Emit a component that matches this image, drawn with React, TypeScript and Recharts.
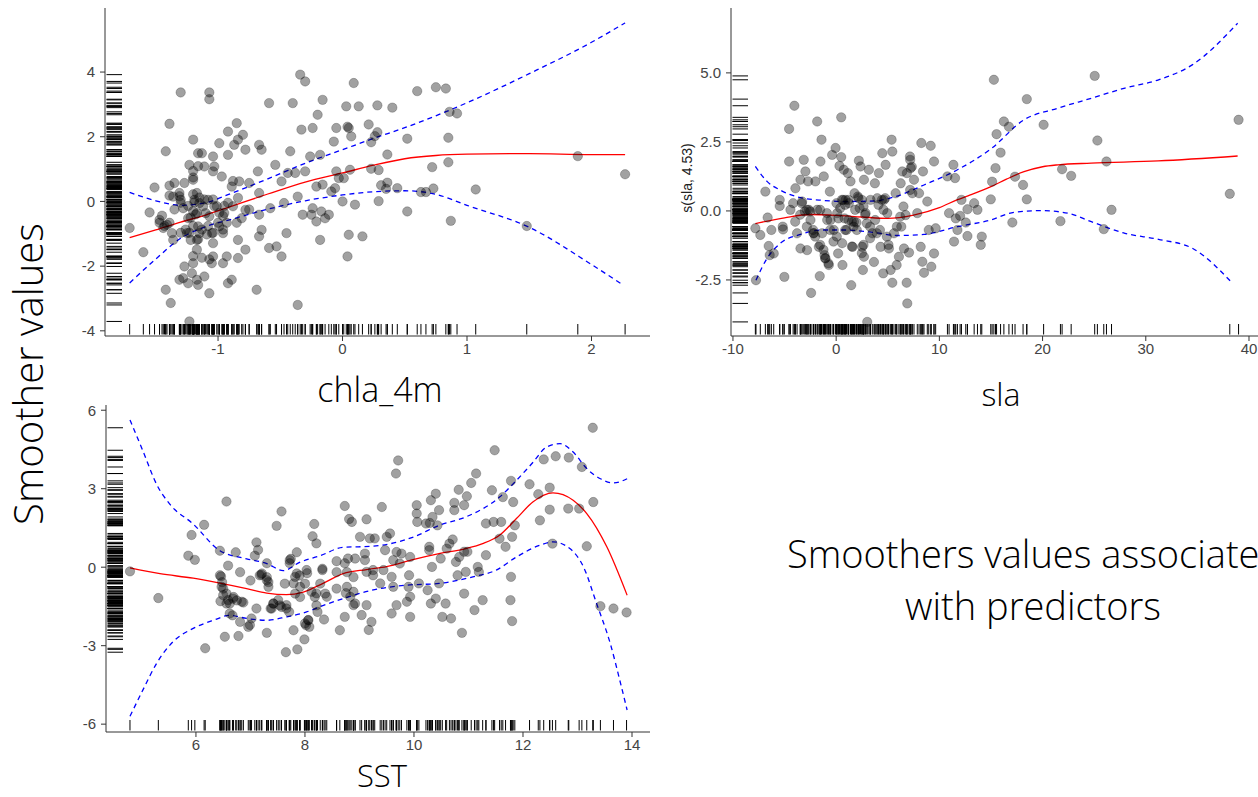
import React from 'react';
import { ComposedChart, Scatter, Line, XAxis, YAxis } from 'recharts';

type P = [number, number];

// ---------- Panel 1: chla_4m ----------
const chlaPoints: P[] = [
  [-1.71,-0.82],[-1.60,-1.57],[-1.55,-0.34],[-1.51,0.43],[-1.42,1.55],[-1.39,2.40],[-1.39,0.18],[-1.38,-3.14],[-1.42,-2.73],[-1.30,3.37],
  [-1.35,0.57],[-1.47,-0.57],[-1.45,-0.44],[-1.44,-0.82],[-1.41,-0.72],[-1.37,-0.98],[-1.36,-1.19],[-1.36,0.15],[-1.31,0.26],[-1.30,0.05],
  [-1.28,-0.21],[-1.27,0.57],[-1.25,-0.98],[-1.24,-0.52],[-1.23,1.13],[-1.22,-1.19],[-1.27,-2.01],[-1.28,-2.37],[-1.31,-2.42],[-1.24,-2.53],
  [-1.21,-2.22],[-1.20,-1.91],[-1.23,-3.71],[-1.20,1.91],[-1.20,0.67],[-1.19,0.05],[-1.17,0.26],[-1.16,1.49],[-1.15,-0.05],[-1.17,-0.36],
  [-1.16,-0.77],[-1.15,-0.98],[-1.17,-1.19],[-1.17,-1.49],[-1.17,-2.42],[-1.16,-2.58],[-1.13,1.49],[-1.11,1.08],[-1.11,-2.32],[-1.07,3.37],
  [-1.07,3.16],[-1.07,-2.84],[-1.08,0.05],[-1.10,-0.36],[-1.07,-0.46],[-1.05,-0.98],[-1.04,1.39],[-1.04,0.93],[-1.03,1.08],[-1.04,-1.29],
  [-1.04,-1.70],[-1.05,-1.91],[-1.01,-0.15],[-0.99,-0.77],[-0.97,0.77],[-0.99,1.80],[-0.96,-0.98],[-0.96,-1.91],[-0.95,-0.36],[-0.93,-1.70],
  [-0.92,2.16],[-0.92,1.44],[-0.92,-2.53],[-0.89,0.46],[-0.89,-2.42],[-0.88,-0.15],[-0.87,1.75],[-0.85,2.42],[-0.84,1.91],[-0.84,-1.75],
  [-0.84,-1.19],[-0.83,0.62],[-0.81,-0.52],[-0.80,2.06],[-0.78,1.60],[-0.78,-1.49],[-0.78,-0.26],[-0.75,0.57],[-0.69,-2.73],[-0.68,0.93],
  [-0.67,1.75],[-0.65,1.60],[-0.67,0.26],[-0.67,-0.41],[-0.67,-1.08],[-0.65,-0.88],[-0.59,3.04],[-0.59,-1.44],[-0.58,-0.21],[-0.54,1.13],
  [-0.53,-1.39],[-0.49,0.62],[-0.49,-1.70],[-0.47,-0.05],[-0.45,-0.98],[-0.44,0.88],[-0.42,1.55],[-0.40,3.04],[-0.38,0.88],[-0.36,0.15],
  [-0.36,-3.20],[-0.34,3.92],[-0.33,2.22],[-0.30,3.71],[-0.32,-0.41],[-0.30,0.93],[-0.26,1.39],[-0.25,-0.41],[-0.24,2.27],[-0.24,-0.21],
  [-0.21,0.46],[-0.21,-0.62],[-0.20,2.68],[-0.18,1.44],[-0.18,-1.19],[-0.17,-0.31],[-0.16,3.14],[-0.16,0.52],[-0.14,-0.52],[-0.11,-0.41],
  [-0.09,0.31],[-0.07,1.85],[-0.06,0.41],[-0.05,2.27],[-0.05,0.93],[-0.03,0.72],[0.00,0.00],[0.01,0.72],[0.03,2.94],[0.04,-1.70],
  [0.05,2.27],[0.05,-1.03],[0.06,0.98],[0.07,2.01],[0.09,3.66],[0.10,-0.10],[0.13,2.94],
  [-1.39,0.49],[-1.31,0.16],[-1.30,-0.04],[-1.35,-0.25],[-1.24,-0.14],[-1.20,0.22],[-1.19,-0.03],[-1.15,0.12],[-1.11,0.06],[-1.12,-0.15],
  [-1.04,0.06],[-1.03,-0.15],[-1.20,-0.30],[-1.22,-0.50],[-1.18,-0.40],[-1.47,-0.66],[-1.43,-0.76],[-1.39,-0.66],[-1.30,-0.97],[-1.26,-0.87],
  [-1.23,-0.97],[-1.20,-0.76],[-1.16,-1.17],[-1.13,-0.87],[-1.08,-0.76],[-1.09,-1.02],[-1.04,-0.97],[-1.00,-0.66],[-0.96,-0.45],[-0.99,-0.35],
  [-0.95,-0.14],[-0.92,-0.04],[-0.96,-0.87],[-0.93,-0.66],[-0.88,0.63],[-0.84,0.11],[-0.85,-0.66],[-0.75,-0.25],[-1.20,0.94],[-1.20,0.74],
  [-1.16,1.09],[-1.20,-1.69],[-1.13,-1.74],[-1.07,-1.79],
  [0.04,2.31],[0.21,2.38],[0.28,2.14],[0.26,2.02],[0.23,1.83],[0.28,2.97],[0.40,2.90],[0.60,3.41],[0.75,3.53],[0.83,3.49],
  [0.52,1.94],[0.85,1.97],[0.86,2.77],[0.92,2.72],[0.36,1.45],[0.23,1.01],[0.29,0.97],[0.72,1.06],[0.85,1.21],[0.31,0.50],
  [0.36,0.58],[0.35,0.39],[0.44,0.41],[0.63,0.29],[0.67,0.29],[0.73,0.40],[1.07,0.37],[0.29,0.01],[0.52,-0.31],[0.87,-0.60],
  [0.16,-1.08],[1.48,-0.76],[1.89,1.40],[2.27,0.84],
];
const chlaFit: P[] = [
  [-1.71,-1.12],[-1.5,-0.88],[-1.3,-0.64],[-1.1,-0.42],[-0.9,-0.16],[-0.6,0.23],[-0.3,0.60],[0,0.88],[0.25,1.12],[0.5,1.32],
  [0.75,1.42],[1.0,1.46],[1.5,1.48],[2.0,1.45],[2.27,1.45],
];
const chlaUpper: P[] = [
  [-1.71,0.28],[-1.5,0.02],[-1.3,-0.12],[-1.1,-0.04],[-0.9,0.24],[-0.6,0.70],[-0.3,1.18],[0,1.60],[0.25,1.95],[0.5,2.28],
  [1.0,3.05],[1.5,3.95],[2.0,4.92],[2.27,5.52],
];
const chlaLower: P[] = [
  [-1.71,-2.52],[-1.5,-1.78],[-1.3,-1.14],[-1.1,-0.78],[-0.9,-0.56],[-0.6,-0.24],[-0.3,0.02],[0,0.20],[0.25,0.30],[0.5,0.33],
  [0.75,0.22],[1.0,-0.12],[1.5,-0.80],[2.0,-1.95],[2.24,-2.55],
];
const chlaXTicks = [-1, 0, 1, 2];
const chlaYTicks = [-4, -2, 0, 2, 4];

// ---------- Panel 2: sla ----------
const slaPoints: P[] = [
  [-7.77,-2.51],[-7.83,-0.63],[-7.35,-0.87],[-6.86,0.70],[-6.64,-0.24],[-6.54,-1.27],[-6.44,-1.60],[-6.28,-0.69],[-6.05,-1.54],[-5.47,0.40],
  [-5.47,0.18],[-5.18,-0.57],[-5.15,-0.67],[-5.02,-2.39],[-4.56,2.97],[-4.56,1.79],[-4.43,0.04],[-4.17,0.28],[-4.05,3.81],[-3.95,0.82],
  [-3.79,-0.81],[-3.46,-1.36],[-3.46,1.13],[-3.30,0.34],[-3.14,1.85],[-2.98,1.43],[-3.04,-0.02],[-2.82,-1.42],[-2.72,1.07],[-2.65,0.04],
  [-2.49,-0.33],[-2.43,-2.97],[-2.23,-0.69],[-2.17,-0.81],[-2.01,1.07],[-1.84,3.24],[-1.84,0.04],[-1.68,-1.30],[-1.59,-2.36],[-1.52,1.79],
  [-1.42,2.58],[-1.36,-0.81],[-1.20,1.25],[-1.13,-1.60],[-1.04,-1.72],[-0.87,-0.33],[-0.71,-1.96],[-0.61,0.70],[-0.55,-0.33],[-0.39,2.03],
  [-0.23,-0.69],[-0.06,2.28],[0.03,0.28],[0.10,-0.08],[0.19,-1.54],[0.32,1.63],[0.49,1.95],[0.49,3.39],[0.58,-1.17],[0.61,-1.96],
  [0.68,0.40],[0.74,1.49],[0.81,-0.27],[0.91,0.40],[1.00,-0.69],[1.13,1.37],[1.23,0.28],[1.39,1.07],[1.46,-2.69],[1.59,-1.30],
  [1.72,-0.39],[1.78,0.64],[1.97,-0.42],[2.10,0.52],[2.20,1.82],[2.27,0.10],[2.36,1.61],[2.52,-1.30],[2.59,-2.14],[2.69,1.13],
  [2.69,-1.66],[2.85,-0.08],[3.01,-4.02],[3.17,1.49],[3.33,0.40],[3.50,-0.81],[3.66,-1.85],[3.75,1.00],[3.98,0.46],[4.14,1.37],
  [4.24,-0.69],[4.30,-1.30],[4.47,2.09],[4.56,-2.26],[4.63,0.40],[4.79,1.67],[4.95,-0.08],[5.11,-1.36],[5.28,-2.14],[5.37,2.58],
  [5.44,2.15],[5.44,-2.60],[5.60,-0.81],[5.76,0.64],[5.86,-1.96],[6.08,-1.66],[6.25,1.00],[6.31,-0.57],[6.41,1.43],[6.57,-1.36],
  [6.73,-0.15],[6.83,-2.60],[6.89,-3.35],[7.06,-1.51],[7.15,1.97],[7.22,1.55],[7.38,0.64],[7.54,1.13],[7.86,-0.08],[8.03,0.64],
  [8.19,-1.30],[8.25,2.46],[8.35,-1.84],[8.41,1.43],[8.51,-2.24],[8.83,0.34],[8.97,-0.69],[9.16,2.36],[9.22,-2.02],[9.48,1.79],
  [9.48,-1.54],[9.64,-0.63],[10.78,1.25],[10.94,-0.08],[11.36,1.67],[11.52,1.19],[11.59,-0.27],[11.42,-1.11],[11.75,-0.69],[12.01,-0.18],
  [12.14,0.40],[12.56,-0.42],[12.72,-0.91],[12.72,0.06],[13.37,0.28],[13.69,0.04],[14.01,-1.23],[14.11,-0.93],[14.98,0.42],
  [15.28,4.75],[18.47,4.05],[16.25,3.24],[16.74,3.05],[15.54,2.78],[15.93,2.11],[15.44,1.55],[15.11,1.06],[17.33,1.24],[18.11,0.94],
  [18.47,0.42],[20.10,3.12],[17.07,-0.42],[21.89,1.51],[22.77,1.27],[21.73,-0.37],[25.05,4.89],[25.31,2.55],[26.19,1.79],[26.68,0.04],
  [25.93,-0.66],[38.14,0.62],[38.99,3.30],
  [-3.33,0.28],[-2.84,0.04],[-2.20,-0.81],[-2.03,-0.93],[-1.55,-1.23],[-1.07,-1.71],[-0.75,-1.90],[-0.58,-0.69],[-0.26,-1.11],[0.22,-0.27],
  [0.55,0.40],[0.87,0.22],[1.19,0.40],[1.52,-0.39],[1.68,-0.57],[1.84,0.04],[2.16,0.46],[2.49,0.40],[2.65,0.16],[2.81,-0.14],
  [2.97,-0.45],[3.29,-0.57],[3.78,-0.33],[4.10,0.22],[4.43,0.40],[4.75,0.46],[4.58,0.04],[4.91,-0.93],[5.07,-1.23],[3.94,-0.81],
  [3.29,-0.99],[2.65,-1.23],[2.49,-1.53],[1.52,-1.29],[0.87,-0.69],[0.06,-0.93],[1.19,-0.33],[2.00,-0.69],[0.39,0.10],[-0.90,-0.08],
  [-1.55,0.04],[-2.52,-0.02],[-3.49,-0.14],[-2.84,-0.57],[-3.97,-0.39],[-1.23,-1.41],[5.88,-0.57],[6.20,-0.21],[6.52,0.16],[7.17,0.76],
  [6.85,1.37],[7.33,1.60],[7.17,1.85],
];
const slaFit: P[] = [
  [-7.83,-0.46],[-5,-0.25],[-2.5,-0.13],[0,-0.16],[2.5,-0.22],[5,-0.27],[7.5,-0.15],[10,0.12],[11.7,0.40],[13,0.58],
  [15,0.88],[16.5,1.15],[18.2,1.42],[20,1.60],[21.5,1.67],[24.7,1.73],[31.2,1.81],[38.9,1.99],
];
const slaUpper: P[] = [
  [-7.83,1.61],[-6.7,1.07],[-5.4,0.75],[-3.46,0.48],[-1.2,0.38],[0.74,0.34],[3.66,0.36],[5.92,0.54],[8.51,0.94],[11.75,1.49],
  [15,2.25],[18.2,3.30],[21.47,3.72],[24.72,4.08],[27.98,4.45],[31.24,4.75],[34.5,5.29],[38.9,6.80],
];
const slaLower: P[] = [
  [-7.77,-2.51],[-6.7,-1.72],[-5.4,-1.17],[-3.46,-0.85],[-1.2,-0.69],[0.74,-0.69],[3.66,-0.78],[5.92,-0.89],[8.51,-0.85],[11.75,-0.57],
  [14.95,-0.33],[17.23,-0.05],[19.84,0.01],[22.44,-0.08],[24.72,-0.39],[27.98,-0.81],[31.24,-1.03],[34.5,-1.35],[38.4,-2.62],
];
const slaXTicks = [-10, 0, 10, 20, 30, 40];
const slaYTicks = [-2.5, 0, 2.5, 5];

// ---------- Panel 3: SST ----------
const sstPoints: P[] = [
  [4.79,-0.16],[5.31,-1.18],[5.86,0.44],[5.92,1.23],[5.98,0.28],[6.15,1.62],[6.17,-3.10],[6.44,0.63],[6.46,-0.35],[6.48,-0.57],
  [6.50,-0.82],[6.45,-1.30],[6.53,-2.66],[6.56,2.51],[6.59,0.06],[6.56,-1.01],[6.62,-1.39],[6.67,-1.84],[6.69,-1.14],[6.73,0.57],
  [6.75,-1.27],[6.78,-2.63],[6.81,-0.19],[6.81,-2.09],[6.87,-1.35],[6.96,-2.28],[7.00,-0.51],[7.02,-1.96],[7.08,0.44],[7.11,-1.58],
  [7.11,0.95],[7.14,0.66],[7.20,-0.29],[7.30,-2.51],[7.30,0.15],[7.30,-0.38],[7.33,-0.57],[7.37,-1.58],[7.42,-1.39],[7.48,1.58],
  [7.54,-1.46],[7.57,2.13],[7.63,-0.63],[7.65,-3.25],[7.66,-1.58],[7.71,-1.71],[7.72,0.15],[7.74,0.32],[7.79,-2.41],[7.82,-1.01],
  [7.85,0.57],[7.86,-3.14],[7.90,-0.32],[7.91,-1.14],[7.99,-2.76],[8.00,-0.63],[8.02,-2.22],[8.04,-0.23],[8.06,-2.03],[8.08,-2.28],
  [8.14,1.18],[8.17,1.65],[8.21,0.91],[8.18,-1.14],[8.21,-1.46],[8.23,-1.71],[8.28,-0.63],[8.32,-0.06],[8.35,-2.00],[8.37,-1.01],
  [8.58,0.23],[8.58,-0.82],[8.64,-2.41],[8.58,-0.19],[8.73,2.34],[8.73,0.15],[8.73,-1.90],[8.75,-0.99],[8.77,-0.19],[8.81,1.84],
  [8.86,1.73],[8.89,-0.38],[8.92,-1.39],
  [6.44,-0.31],[6.47,-0.75],[6.50,-1.07],[6.59,-1.26],[6.68,-1.20],[6.84,-1.32],[6.56,-1.39],[6.62,-1.77],[6.99,-2.21],[7.17,-0.31],
  [7.30,-0.50],[7.21,-0.24],[7.33,-0.75],[7.42,-1.39],[7.51,-1.26],[7.57,-1.52],[7.39,-1.58],[7.66,-1.45],[7.79,-0.62],[7.82,-0.37],
  [7.91,-0.75],[7.85,-0.24],[8.12,-0.94],[8.21,-1.00],[8.06,-2.02],[8.00,-2.15],[7.72,0.27],[8.03,-0.11],[8.32,-0.11],[8.40,-1.13],
  [8.77,-0.75],[8.83,-1.13],[8.89,-0.94],
  [9.13,1.83],[9.41,2.30],[9.71,4.08],[9.67,3.58],[9.01,1.16],[9.19,1.10],[9.28,1.10],[9.50,1.16],[9.56,1.29],[9.10,0.52],
  [8.92,0.33],[8.79,0.33],[9.10,0.27],[9.13,-0.18],[9.25,-0.11],[9.25,-0.31],[9.44,-0.11],[9.38,-0.62],[9.47,0.65],[9.68,0.58],
  [9.77,0.52],[9.93,0.39],[9.62,0.27],[9.74,0.14],[9.59,-0.37],[9.62,-0.75],[9.91,-0.31],[9.90,-0.75],[9.93,-1.13],[9.87,-1.32],
  [9.68,-1.45],[9.59,-1.77],[9.93,-1.90],[9.13,-1.45],[9.04,-1.83],[9.22,-2.09],[9.17,-2.40],[8.89,-1.45],[10.05,2.37],[10.05,2.05],
  [10.06,1.73],
  [10.22,1.67],[10.29,1.69],[10.40,2.81],[10.31,2.56],[10.46,2.18],[10.34,1.92],[10.74,2.46],[10.74,2.18],[10.82,2.96],[10.92,2.37],
  [10.97,2.71],[11.05,3.22],[11.14,3.58],[10.60,0.71],[10.65,0.90],[10.71,1.06],[10.83,0.39],[10.92,0.59],[10.98,0.59],[10.43,1.60],
  [10.28,0.78],[10.28,0.65],[10.33,0.01],[10.49,0.33],[10.09,-0.62],[10.25,-0.88],[10.31,-1.39],[10.40,-1.20],[10.46,-0.62],[10.58,-1.39],
  [10.68,-1.96],[10.52,-1.90],[10.80,-0.31],[10.77,0.20],[10.92,-1.01],[10.95,-0.18],[10.88,-2.51],[11.11,-1.64],[11.17,0.01],[11.26,-1.26],
  [11.32,0.46],[11.19,-0.18],[11.32,1.67],[11.43,2.94],[11.48,4.47],[11.46,1.73],[11.60,1.73],[11.63,2.68],[11.57,1.09],[11.68,0.78],
  [11.78,3.30],[11.82,2.49],[11.85,1.60],[11.80,1.16],[11.78,-0.37],[11.77,-1.26],[11.80,-2.06],[12.12,3.17],[12.28,2.79],[12.31,1.79],
  [12.38,4.12],[12.49,3.04],[12.49,2.20],[12.54,0.90],[12.60,4.24],[12.83,2.24],[12.84,4.19],[13.03,2.24],[13.08,3.83],[13.17,0.80],
  [13.29,2.49],[13.28,5.33],[13.42,-1.49],[13.66,-1.58],[13.90,-1.73],
];
const sstFit: P[] = [
  [4.79,-0.03],[5.34,-0.25],[5.95,-0.42],[6.44,-0.61],[6.93,-0.82],[7.30,-0.99],[7.66,-1.05],[7.97,-0.95],[8.34,-0.61],[8.70,-0.25],
  [9.13,-0.09],[9.50,0.02],[10.0,0.30],[10.46,0.52],[10.95,0.71],[11.26,0.90],[11.57,1.22],[11.88,1.86],[12.18,2.49],[12.55,2.84],
  [12.92,2.56],[13.17,2.05],[13.54,0.77],[13.91,-1.07],
];
const sstUpper: P[] = [
  [4.79,5.63],[5.03,4.43],[5.28,3.16],[5.52,2.41],[5.95,1.65],[6.44,0.63],[6.93,0.32],[7.30,0.14],[7.60,-0.13],[7.91,0.19],
  [8.28,0.44],[8.70,0.76],[9.23,0.80],[10.0,1.16],[10.46,1.60],[10.95,1.92],[11.57,2.68],[11.88,3.32],[12.18,4.0],[12.43,4.59],
  [12.68,4.72],[12.92,4.40],[13.17,3.77],[13.42,3.38],[13.66,3.22],[13.91,3.38],
];
const sstLower: P[] = [
  [4.79,-5.70],[5.03,-4.68],[5.28,-3.67],[5.58,-2.85],[5.95,-2.34],[6.32,-2.03],[6.62,-1.84],[6.93,-1.96],[7.30,-2.03],[7.66,-1.90],
  [8.03,-1.71],[8.34,-1.46],[8.70,-1.20],[9.23,-0.88],[9.85,-0.69],[10.46,-0.62],[11.08,-0.37],[11.51,-0.11],[11.88,0.39],[12.31,0.84],
  [12.55,0.97],[12.86,0.71],[13.11,0.01],[13.35,-1.39],[13.60,-2.91],[13.79,-4.44],[13.91,-5.46],
];
const sstXTicks = [6, 8, 10, 12, 14];
const sstYTicks = [-6, -3, 0, 3, 6];

// ---------- helpers ----------
const toXY = (a: P[]) => a.map(([x, y]) => ({ x, y }));
const tickFamily = '"Liberation Sans", Arial, sans-serif';
const tickFont = { fill: '#444', fontSize: 15, fontFamily: tickFamily };
const axisStroke = { stroke: '#333', strokeWidth: 1 };
const bigFont = '"Open Sans", "Noto Sans", sans-serif';

const PointShape = (p: any) => (
  <circle cx={p.cx} cy={p.cy} r={4.7} fill="rgba(0,0,0,0.37)" stroke="rgba(0,0,0,0.22)" strokeWidth={1} />
);
const XRugShape = (p: any) => (
  <line x1={p.cx} x2={p.cx} y1={p.cy - 1.5} y2={p.cy - 12} stroke="#000" strokeWidth={1} />
);
const YRugShape = (p: any) => (
  <line x1={p.cx + 1.5} x2={p.cx + 17} y1={p.cy} y2={p.cy} stroke="#000" strokeWidth={1} />
);

type PanelProps = {
  points: P[]; fit: P[]; upper: P[]; lower: P[];
  xDomain: [number, number]; yDomain: [number, number];
  xTicks: number[]; yTicks: number[];
  width: number; height: number;
  margin: { top: number; right: number; bottom: number; left: number };
  yAxisWidth: number; yFmt?: (v: number) => string;
};

function Panel(props: PanelProps) {
  const { points, fit, upper, lower, xDomain, yDomain, xTicks, yTicks, width, height, margin, yAxisWidth, yFmt } = props;
  const xRug = points.map(([x]) => ({ x, y: yDomain[0] }));
  const yRug = points.map(([, y]) => ({ x: xDomain[0], y }));
  return (
    <ComposedChart width={width} height={height} margin={margin}>
      <XAxis type="number" dataKey="x" domain={xDomain} ticks={xTicks} interval={0} allowDataOverflow
        height={30} tickSize={5} tickMargin={2} axisLine={axisStroke} tickLine={axisStroke} tick={tickFont}
        fontSize={15} fontFamily={tickFamily} />
      <YAxis type="number" dataKey="y" domain={yDomain} ticks={yTicks} interval={0} allowDataOverflow
        width={yAxisWidth} tickSize={5} tickMargin={5} axisLine={axisStroke} tickLine={axisStroke} tick={tickFont}
        fontSize={15} fontFamily={tickFamily} tickFormatter={yFmt} />
      <Scatter data={xRug} shape={XRugShape} isAnimationActive={false} />
      <Scatter data={yRug} shape={YRugShape} isAnimationActive={false} />
      <Scatter data={toXY(points)} shape={PointShape} isAnimationActive={false} />
      <Line data={toXY(upper)} dataKey="y" type="monotone" stroke="#0000ff" strokeWidth={1.3} strokeDasharray="5 4" dot={false} activeDot={false} isAnimationActive={false} />
      <Line data={toXY(lower)} dataKey="y" type="monotone" stroke="#0000ff" strokeWidth={1.3} strokeDasharray="5 4" dot={false} activeDot={false} isAnimationActive={false} />
      <Line data={toXY(fit)} dataKey="y" type="monotone" stroke="#ff0000" strokeWidth={1.3} dot={false} activeDot={false} isAnimationActive={false} />
    </ComposedChart>
  );
}

export default function App() {
  return (
    <div style={{ position: 'absolute', left: 0, top: 0, width: 1258, height: 797, overflow: 'hidden', background: '#fff' }}>
      <div style={{ position: 'absolute', left: 0, top: 0 }}>
        <Panel points={chlaPoints} fit={chlaFit} upper={chlaUpper} lower={chlaLower}
          xDomain={[-1.908, 2.47]} yDomain={[-4.16, 5.98]} xTicks={chlaXTicks} yTicks={chlaYTicks}
          width={660} height={380} margin={{ top: 8, right: 10, bottom: 14, left: 45 }} yAxisWidth={60} />
      </div>
      <div style={{ position: 'absolute', left: 680, top: 0 }}>
        <Panel points={slaPoints} fit={slaFit} upper={slaUpper} lower={slaLower}
          xDomain={[-10.19, 40.97]} yDomain={[-4.53, 7.35]} xTicks={slaXTicks} yTicks={slaYTicks}
          width={580} height={380} margin={{ top: 8, right: 1, bottom: 14, left: 0 }} yAxisWidth={51}
          yFmt={(v: number) => v.toFixed(1)} />
      </div>
      <div style={{ position: 'absolute', left: 0, top: 397 }}>
        <Panel points={sstPoints} fit={sstFit} upper={sstUpper} lower={sstLower}
          xDomain={[4.35, 14.33]} yDomain={[-6.3, 6.2]} xTicks={sstXTicks} yTicks={sstYTicks}
          width={660} height={380} margin={{ top: 8, right: 10, bottom: 15, left: 46 }} yAxisWidth={60} />
      </div>
      <svg width={1258} height={797} style={{ position: 'absolute', left: 0, top: 0, pointerEvents: 'none' }}>
        <g fontFamily={bigFont} fontWeight={300} fill="#000">
          <text x={43} y={374} transform="rotate(-90 43 374)" textAnchor="middle" fontSize={40}>Smoother values</text>
          <text x={380} y={402} textAnchor="middle" fontSize={34}>chla_4m</text>
          <text x={1001} y={406} textAnchor="middle" fontSize={32}>sla</text>
          <text x={382} y={787} textAnchor="middle" fontSize={31}>SST</text>
          <text x={787} y={568} fontSize={38}>Smoothers values associate</text>
          <text x={1033} y={620} textAnchor="middle" fontSize={38}>with predictors</text>
        </g>
        <text x={692} y={178} transform="rotate(-90 692 178)" textAnchor="middle" fontSize={14}
          fontFamily={tickFamily} fill="#222">s(sla, 4.53)</text>
      </svg>
    </div>
  );
}
